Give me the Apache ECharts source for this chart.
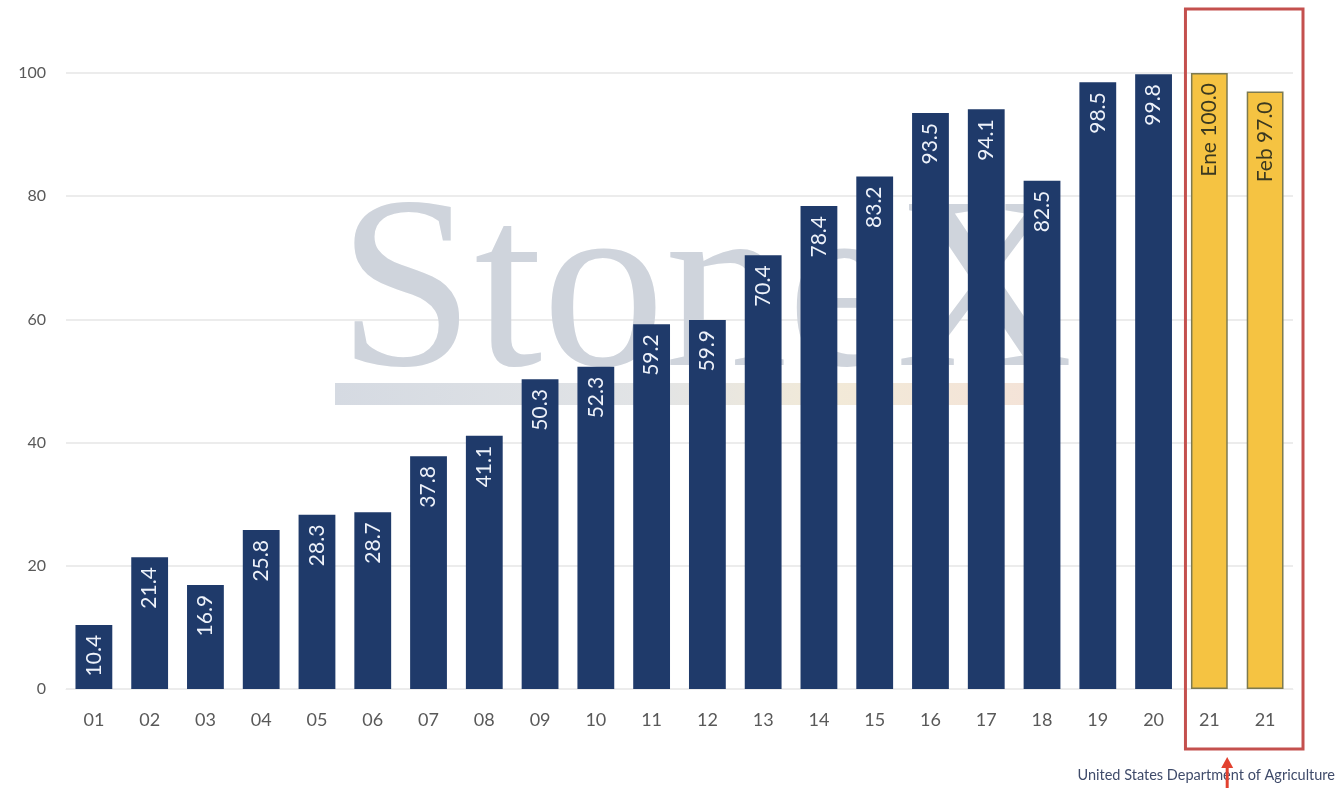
<!DOCTYPE html>
<html>
<head>
<meta charset="utf-8">
<title>Producción por año</title>
<script src="https://cdn.jsdelivr.net/npm/echarts@6/dist/echarts.min.js"></script>
<style>
  html, body { margin: 0; padding: 0; background: #ffffff; }
  #chart { width: 1337px; height: 788px; }
</style>
</head>
<body>
<div id="chart"></div>
<script>
// Year labels (two-digit) on the category axis; the last two are 2021 estimates
const years = ['01', '02', '03', '04', '05', '06', '07', '08', '09', '10',
               '11', '12', '13', '14', '15', '16', '17', '18', '19', '20',
               '21', '21'];
// Bar values
const values = [10.4, 21.4, 16.9, 25.8, 28.3, 28.7, 37.8, 41.1, 50.3, 52.3,
                59.2, 59.9, 70.4, 78.4, 83.2, 93.5, 94.1, 82.5, 98.5, 99.8,
                100.0, 97.0];
// Month of each 2021 estimate (Enero, Febrero)
const estimateMonths = ['Ene', 'Feb'];
// Y-axis ticks
const yTicks = [0, 20, 40, 60, 80, 100];
const sourceText = 'United States Department of Agriculture';

const FONT = 'Lato, "Open Sans", sans-serif';
const firstEstimate = values.length - estimateMonths.length;

const barData = values.map((v, i) => {
  if (i < firstEstimate) return v;
  const month = estimateMonths[i - firstEstimate];
  return {
    value: v,
    itemStyle: { color: '#F5C342', borderColor: '#7d7a50', borderWidth: 1.5 },
    label: {
      color: '#3a3820',
      formatter: p => month + ' ' + p.value.toFixed(1)
    }
  };
});

const chart = echarts.init(document.getElementById('chart'), null, { renderer: 'canvas' });

chart.setOption({
  animation: false,
  backgroundColor: '#ffffff',
  grid: { left: 66, right: 44, top: 73, bottom: 99, containLabel: false },
  xAxis: {
    type: 'category',
    data: years,
    axisLine: { show: true, lineStyle: { color: '#ececec', width: 1 } },
    axisTick: { show: false },
    axisLabel: { color: '#595959', fontSize: 18, fontFamily: FONT, margin: 22, interval: 0 }
  },
  yAxis: {
    type: 'value',
    min: yTicks[0],
    max: yTicks[yTicks.length - 1],
    interval: yTicks[1] - yTicks[0],
    axisLine: { show: false },
    axisTick: { show: false },
    splitLine: { lineStyle: { color: '#e6e6e6', width: 1.5 } },
    axisLabel: { color: '#595959', fontSize: 16, fontFamily: FONT, margin: 20 }
  },
  series: [{
    type: 'bar',
    data: barData,
    barWidth: '66%',
    z: 5,
    itemStyle: { color: '#1F3A6A' },
    label: {
      show: true,
      position: 'insideTop',
      rotate: 90,
      align: 'right',
      verticalAlign: 'middle',
      distance: 10,
      color: '#eef2fa',
      fontSize: 21,
      fontFamily: FONT,
      formatter: p => Number(p.value).toFixed(1)
    }
  }]
});

// Decorations placed from the axis scales: watermark, highlight box for 2021, source note
function placeGraphics() {
  const xAt = i => chart.convertToPixel({ xAxisIndex: 0 }, i);
  const yAt = v => chart.convertToPixel({ yAxisIndex: 0 }, v);
  const step = xAt(1) - xAt(0);
  const lastIdx = values.length - 1;
  const boxLeft = xAt(firstEstimate - 1) + step / 2 + 4;
  const boxRight = xAt(lastIdx) + step / 2 + 10;
  const boxTop = yAt(100) - 64;
  const boxBottom = yAt(0) + 60;
  const arrowX = xAt(firstEstimate) + step * 0.32;

  chart.setOption({
    graphic: [
      // StoneX watermark behind the bars
      {
        id: 'wm-text', type: 'text', z: 0, silent: true,
        left: 338, top: 178,
        style: {
          text: 'StoneX',
          fill: '#cfd4dc',
          font: '245px "Liberation Serif", "DejaVu Serif", serif'
        }
      },
      {
        id: 'wm-bar', type: 'rect', z: 0, silent: true,
        shape: { x: 335, y: 383, width: 700, height: 22 },
        style: {
          fill: new echarts.graphic.LinearGradient(0, 0, 1, 0, [
            { offset: 0, color: '#d5dae2' },
            { offset: 0.45, color: '#e2e4e6' },
            { offset: 0.7, color: '#f2ead8' },
            { offset: 1, color: '#f4e3d8' }
          ])
        }
      },
      // Box around the 2021 estimates
      {
        id: 'box', type: 'rect', z: 10, silent: true,
        shape: { x: boxLeft, y: boxTop, width: boxRight - boxLeft, height: boxBottom - boxTop },
        style: { fill: 'none', stroke: '#c4504e', lineWidth: 3 }
      },
      // Source note
      {
        id: 'source', type: 'text', z: 10, silent: true,
        right: 2, top: 768,
        style: {
          text: sourceText,
          fill: '#3f4b6a',
          font: '14.5px ' + FONT
        }
      },
      // Arrow pointing up at the box
      {
        id: 'arrow-shaft', type: 'line', z: 11, silent: true,
        shape: { x1: arrowX, y1: 788, x2: arrowX, y2: 764 },
        style: { stroke: '#e2412f', lineWidth: 3 }
      },
      {
        id: 'arrow-head', type: 'polygon', z: 11, silent: true,
        shape: { points: [[arrowX, boxBottom + 8], [arrowX - 6, boxBottom + 19], [arrowX + 6, boxBottom + 19]] },
        style: { fill: '#e2412f' }
      }
    ]
  });
}
placeGraphics();
</script>
</body>
</html>
